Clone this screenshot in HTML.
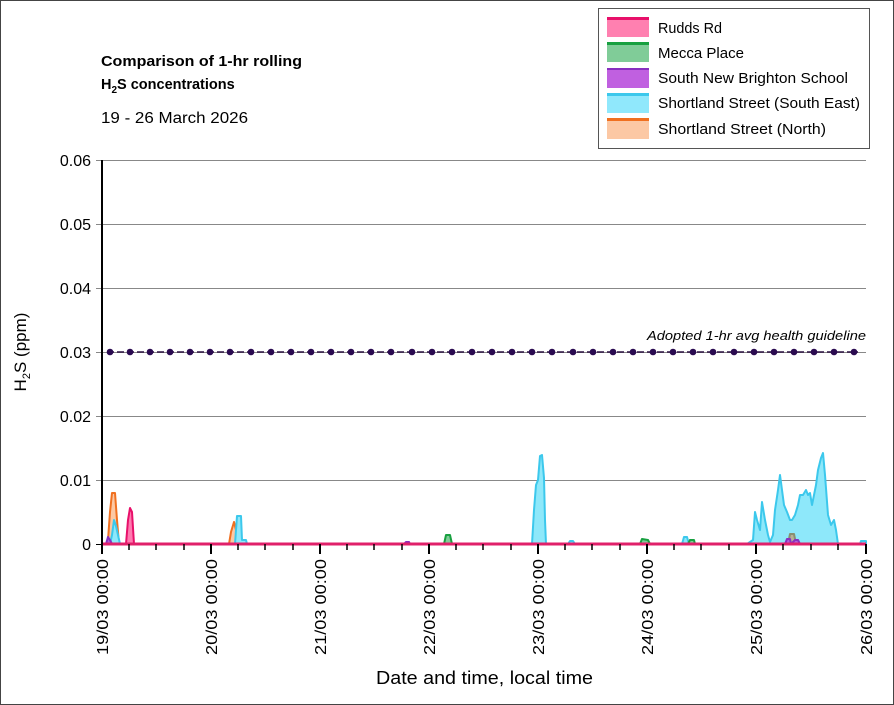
<!DOCTYPE html>
<html><head><meta charset="utf-8"><style>
body{margin:0;background:#fff}
svg{display:block;font-family:"Liberation Sans",sans-serif}
</style></head><body>
<svg width="894" height="705" viewBox="0 0 894 705" xmlns="http://www.w3.org/2000/svg">
<rect x="0.5" y="0.5" width="893" height="704" fill="#fff" stroke="#444"/>
<g stroke="#888" stroke-width="1">
<line x1="96" y1="160.5" x2="866" y2="160.5"/>
<line x1="96" y1="224.5" x2="866" y2="224.5"/>
<line x1="96" y1="288.5" x2="866" y2="288.5"/>
<line x1="96" y1="352.5" x2="866" y2="352.5"/>
<line x1="96" y1="416.5" x2="866" y2="416.5"/>
<line x1="96" y1="480.5" x2="866" y2="480.5"/>
</g>
<g font-size="16" fill="#000" text-anchor="end">
<text x="91" y="166">0.06</text><text x="91" y="230">0.05</text><text x="91" y="294">0.04</text>
<text x="91" y="358">0.03</text><text x="91" y="422">0.02</text><text x="91" y="486">0.01</text><text x="91" y="550">0</text>
</g>
<text transform="translate(26,352) rotate(-90)" font-size="17" text-anchor="middle">H<tspan font-size="11" dy="4">2</tspan><tspan dy="-4">S (ppm)</tspan></text>
<text x="101" y="66" font-size="14.5" font-weight="bold" textLength="201" lengthAdjust="spacingAndGlyphs">Comparison of 1-hr rolling</text>
<text x="101" y="89" font-size="14.5" font-weight="bold">H<tspan font-size="10" dy="4">2</tspan><tspan dy="-4">S concentrations</tspan></text>
<text x="101" y="123" font-size="15.5" textLength="147" lengthAdjust="spacingAndGlyphs">19 - 26 March 2026</text>
<g stroke-width="2" stroke-linejoin="round">
<polygon points="106,544 108,540 110,512 112,493 115,493 117,520 119,544" fill="#fcc8a4" stroke="#f07020"/>
<polygon points="110,544 112,535 114,520 116,526 118,535 120,544" fill="#8ee8fa" stroke="#3cc8ec"/>
<polygon points="126,544 128,520 130,508 132,512 134,544" fill="#ff7ab0" stroke="#e8106a"/>
<polygon points="106,544 108,537 110,540 112,544" fill="#b060d8" stroke="#8830c0"/>
<polygon points="229,544 231,532 234,522 236,530 238,544" fill="#fcc8a4" stroke="#f07020"/>
<polygon points="235,544 237,516 241,516 242,540 246,540 247,544" fill="#8ee8fa" stroke="#3cc8ec"/>
<polygon points="444,544 446,535 450,535 452,544" fill="#80cc98" stroke="#18a040"/>
<polygon points="532,544 534,510 536,485 538,480 540,456 542,455 544,478 545,520 546,544" fill="#8ee8fa" stroke="#3cc8ec"/>
<polygon points="568,544 570,541 573,541 575,544" fill="#8ee8fa" stroke="#3cc8ec"/>
<polygon points="640,544 642,539 648,540 650,544" fill="#80cc98" stroke="#18a040"/>
<polygon points="682,544 684,537 687,537 689,544" fill="#8ee8fa" stroke="#3cc8ec"/>
<polygon points="688,544 690,540 694,540 695,544" fill="#80cc98" stroke="#18a040"/>
<polygon points="747,544 753,540 755,512 757,520 760,530 762,502 765,520 768,535 770,542 773,535 775,510 778,490 780,475 782,490 784,505 787,512 790,520 792,520 795,515 798,505 800,495 803,495 806,490 808,495 810,493 812,505 814,495 816,485 818,470 821,458 823,453 825,475 828,515 831,525 834,520 836,530 838,544" fill="#8ee8fa" stroke="#3cc8ec"/>
<polygon points="860,544 861,541 866,541 866,544" fill="#8ee8fa" stroke="#3cc8ec"/>
<polygon points="788,544 790,534 794,534 796,544" fill="#b8b098" stroke="#889070"/>
<polygon points="785,544 787,539 790,539 791,544 795,540 798,540 800,544" fill="#b060d8" stroke="#8830c0"/>
<polygon points="404,544 406,542 409,542 410,544" fill="#b060d8" stroke="#8830c0"/>
</g>
<line x1="102" y1="544" x2="866" y2="544" stroke="#e0206a" stroke-width="3"/>
<line x1="102" y1="160" x2="102" y2="550" stroke="#000" stroke-width="2"/>
<line x1="96" y1="544.5" x2="102" y2="544.5" stroke="#000"/>
<g stroke="#000" stroke-width="2">
<line x1="102" y1="544" x2="102" y2="554"/><line x1="211" y1="544" x2="211" y2="554"/><line x1="320" y1="544" x2="320" y2="554"/>
<line x1="429" y1="544" x2="429" y2="554"/><line x1="538" y1="544" x2="538" y2="554"/><line x1="647" y1="544" x2="647" y2="554"/>
<line x1="756" y1="544" x2="756" y2="554"/><line x1="866" y1="544" x2="866" y2="554"/>
</g>
<g stroke="#000" stroke-width="1.5">
<line x1="129" y1="544" x2="129" y2="550"/><line x1="156" y1="544" x2="156" y2="550"/><line x1="184" y1="544" x2="184" y2="550"/>
<line x1="238" y1="544" x2="238" y2="550"/><line x1="265" y1="544" x2="265" y2="550"/><line x1="293" y1="544" x2="293" y2="550"/>
<line x1="347" y1="544" x2="347" y2="550"/><line x1="374" y1="544" x2="374" y2="550"/><line x1="402" y1="544" x2="402" y2="550"/>
<line x1="456" y1="544" x2="456" y2="550"/><line x1="483" y1="544" x2="483" y2="550"/><line x1="511" y1="544" x2="511" y2="550"/>
<line x1="565" y1="544" x2="565" y2="550"/><line x1="592" y1="544" x2="592" y2="550"/><line x1="620" y1="544" x2="620" y2="550"/>
<line x1="674" y1="544" x2="674" y2="550"/><line x1="701" y1="544" x2="701" y2="550"/><line x1="729" y1="544" x2="729" y2="550"/>
<line x1="783" y1="544" x2="783" y2="550"/><line x1="811" y1="544" x2="811" y2="550"/><line x1="838" y1="544" x2="838" y2="550"/>
</g>
<g font-size="16" text-anchor="end">
<text transform="translate(108,559) rotate(-90)" textLength="96" lengthAdjust="spacingAndGlyphs">19/03 00:00</text>
<text transform="translate(217,559) rotate(-90)" textLength="96" lengthAdjust="spacingAndGlyphs">20/03 00:00</text>
<text transform="translate(326,559) rotate(-90)" textLength="96" lengthAdjust="spacingAndGlyphs">21/03 00:00</text>
<text transform="translate(435,559) rotate(-90)" textLength="96" lengthAdjust="spacingAndGlyphs">22/03 00:00</text>
<text transform="translate(544,559) rotate(-90)" textLength="96" lengthAdjust="spacingAndGlyphs">23/03 00:00</text>
<text transform="translate(653,559) rotate(-90)" textLength="96" lengthAdjust="spacingAndGlyphs">24/03 00:00</text>
<text transform="translate(762,559) rotate(-90)" textLength="96" lengthAdjust="spacingAndGlyphs">25/03 00:00</text>
<text transform="translate(872,559) rotate(-90)" textLength="96" lengthAdjust="spacingAndGlyphs">26/03 00:00</text>
</g>
<text x="376" y="684" font-size="18" textLength="217" lengthAdjust="spacingAndGlyphs">Date and time, local time</text>
<line x1="107" y1="352" x2="858" y2="352" stroke="#2a1040" stroke-width="1.5" stroke-dasharray="7,3"/>
<g fill="#2a0a50">
<circle cx="110" cy="352" r="3.3"/><circle cx="130" cy="352" r="3.3"/><circle cx="150" cy="352" r="3.3"/><circle cx="170" cy="352" r="3.3"/><circle cx="190" cy="352" r="3.3"/><circle cx="210" cy="352" r="3.3"/><circle cx="230" cy="352" r="3.3"/><circle cx="251" cy="352" r="3.3"/><circle cx="271" cy="352" r="3.3"/><circle cx="291" cy="352" r="3.3"/><circle cx="311" cy="352" r="3.3"/><circle cx="331" cy="352" r="3.3"/><circle cx="351" cy="352" r="3.3"/><circle cx="371" cy="352" r="3.3"/><circle cx="391" cy="352" r="3.3"/><circle cx="412" cy="352" r="3.3"/><circle cx="432" cy="352" r="3.3"/><circle cx="452" cy="352" r="3.3"/><circle cx="472" cy="352" r="3.3"/><circle cx="492" cy="352" r="3.3"/><circle cx="512" cy="352" r="3.3"/><circle cx="532" cy="352" r="3.3"/><circle cx="552" cy="352" r="3.3"/><circle cx="573" cy="352" r="3.3"/><circle cx="593" cy="352" r="3.3"/><circle cx="613" cy="352" r="3.3"/><circle cx="633" cy="352" r="3.3"/><circle cx="653" cy="352" r="3.3"/><circle cx="673" cy="352" r="3.3"/><circle cx="693" cy="352" r="3.3"/><circle cx="713" cy="352" r="3.3"/><circle cx="734" cy="352" r="3.3"/><circle cx="754" cy="352" r="3.3"/><circle cx="774" cy="352" r="3.3"/><circle cx="794" cy="352" r="3.3"/><circle cx="814" cy="352" r="3.3"/><circle cx="834" cy="352" r="3.3"/><circle cx="854" cy="352" r="3.3"/>
</g>
<text x="866" y="340" font-size="12.5" font-style="italic" text-anchor="end" textLength="219" lengthAdjust="spacingAndGlyphs">Adopted 1-hr avg health guideline</text>
<rect x="598.5" y="8.5" width="271" height="140" fill="#fff" stroke="#555"/>
<g>
<rect x="607" y="18" width="42" height="19" fill="#ff80b0"/><rect x="607" y="17" width="42" height="3" fill="#e8106a"/>
<rect x="607" y="43" width="42" height="19" fill="#80cc98"/><rect x="607" y="42" width="42" height="3" fill="#18a040"/>
<rect x="607" y="68" width="42" height="20" fill="#c060e0"/><rect x="607" y="68" width="42" height="2" fill="#8830c0"/>
<rect x="607" y="94" width="42" height="19" fill="#90e8fc"/><rect x="607" y="93" width="42" height="3" fill="#3cc8ec"/>
<rect x="607" y="119" width="42" height="20" fill="#fcc8a4"/><rect x="607" y="118" width="42" height="3" fill="#f07020"/>
</g>
<g font-size="15">
<text x="658" y="33" textLength="64" lengthAdjust="spacingAndGlyphs">Rudds Rd</text>
<text x="658" y="58" textLength="86" lengthAdjust="spacingAndGlyphs">Mecca Place</text>
<text x="658" y="83" textLength="190" lengthAdjust="spacingAndGlyphs">South New Brighton School</text>
<text x="658" y="108" textLength="202" lengthAdjust="spacingAndGlyphs">Shortland Street (South East)</text>
<text x="658" y="134" textLength="168" lengthAdjust="spacingAndGlyphs">Shortland Street (North)</text>
</g>
</svg>
</body></html>
